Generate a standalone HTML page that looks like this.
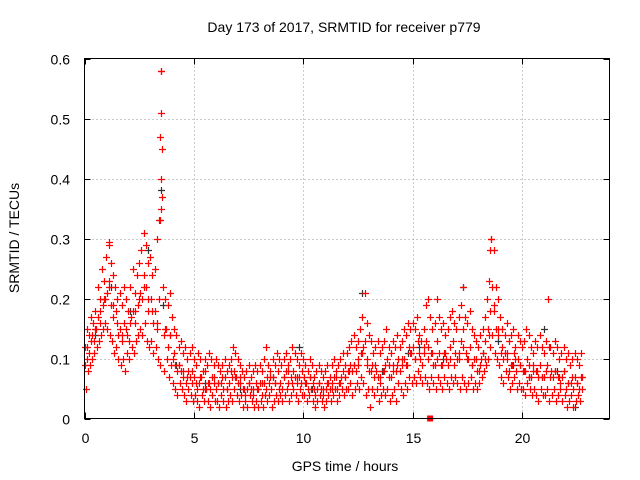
<!DOCTYPE html>
<html><head><meta charset="utf-8"><style>
body{margin:0;background:#fff}
svg{display:block;font-family:"Liberation Sans",sans-serif}
</style></head><body>
<svg id="c" width="640" height="480">
<text x="344" y="32" font-size="14" text-anchor="middle" fill="#000">Day 173 of 2017, SRMTID for receiver p779</text>
<text x="345" y="471" font-size="14" text-anchor="middle">GPS time / hours</text>
<text transform="translate(19,238) rotate(-90)" font-size="14" text-anchor="middle">SRMTID / TECUs</text>
<g id="grid"></g><g id="ticks"></g><g id="pts"></g>
<rect x="84.5" y="58.5" width="525" height="360" fill="none" stroke="#000"/>
</svg>
<script>
const xTicks=[0,5,10,15,20];
const yTicks=[0,0.1,0.2,0.3,0.4,0.5,0.6];
const yTickLabels=["0","0.1","0.2","0.3","0.4","0.5","0.6"];
const hi=[0.12,0.15,0.14,0.17,0.16,0.18,0.22,0.20,0.25,0.23,0.27,0.29,0.26,0.24,0.22,0.20,0.21,0.19,0.22,0.20,0.18,0.22,0.25,0.21,0.24,0.26,0.28,0.31,0.29,0.26,0.27,0.24,0.25,0.30,0.33,0.58,0.22,0.20,0.19,0.21,0.17,0.15,0.14,0.12,0.13,0.11,0.12,0.10,0.11,0.12,0.10,0.09,0.11,0.10,0.08,0.10,0.09,0.11,0.10,0.09,0.10,0.09,0.08,0.09,0.10,0.08,0.09,0.10,0.12,0.11,0.10,0.09,0.08,0.07,0.08,0.09,0.07,0.08,0.09,0.08,0.09,0.08,0.10,0.12,0.09,0.08,0.10,0.09,0.11,0.10,0.09,0.10,0.11,0.09,0.10,0.12,0.11,0.10,0.09,0.11,0.10,0.09,0.08,0.10,0.09,0.07,0.08,0.09,0.08,0.07,0.08,0.09,0.07,0.09,0.10,0.08,0.09,0.10,0.11,0.09,0.11,0.12,0.13,0.14,0.12,0.13,0.15,0.17,0.21,0.16,0.14,0.13,0.11,0.12,0.13,0.11,0.12,0.13,0.15,0.12,0.11,0.13,0.12,0.14,0.12,0.13,0.15,0.14,0.16,0.15,0.16,0.15,0.17,0.14,0.13,0.15,0.19,0.20,0.17,0.15,0.16,0.20,0.17,0.15,0.16,0.14,0.15,0.17,0.18,0.16,0.15,0.17,0.19,0.22,0.17,0.16,0.18,0.15,0.14,0.13,0.12,0.14,0.15,0.17,0.20,0.23,0.30,0.28,0.22,0.20,0.17,0.15,0.14,0.16,0.13,0.14,0.15,0.12,0.14,0.13,0.12,0.13,0.15,0.14,0.12,0.11,0.13,0.12,0.14,0.12,0.11,0.13,0.20,0.12,0.11,0.13,0.12,0.10,0.11,0.12,0.10,0.11,0.09,0.10,0.11,0.10,0.09,0.11];
const lo=[0.05,0.08,0.09,0.10,0.11,0.12,0.13,0.14,0.15,0.16,0.15,0.14,0.13,0.11,0.12,0.10,0.09,0.10,0.08,0.11,0.10,0.12,0.11,0.13,0.14,0.15,0.14,0.16,0.13,0.12,0.13,0.11,0.12,0.10,0.09,0.37,0.08,0.10,0.07,0.09,0.06,0.05,0.04,0.06,0.05,0.04,0.03,0.05,0.04,0.03,0.04,0.03,0.02,0.04,0.03,0.05,0.03,0.02,0.04,0.03,0.03,0.02,0.04,0.03,0.02,0.03,0.04,0.03,0.05,0.04,0.03,0.04,0.02,0.03,0.02,0.04,0.03,0.02,0.03,0.02,0.03,0.02,0.04,0.03,0.04,0.02,0.03,0.04,0.03,0.04,0.03,0.04,0.05,0.03,0.04,0.05,0.04,0.03,0.05,0.04,0.04,0.03,0.04,0.05,0.03,0.02,0.03,0.04,0.03,0.02,0.03,0.04,0.03,0.04,0.05,0.03,0.04,0.05,0.04,0.05,0.05,0.06,0.04,0.05,0.06,0.05,0.07,0.06,0.04,0.05,0.02,0.05,0.04,0.05,0.03,0.04,0.05,0.04,0.05,0.03,0.04,0.05,0.03,0.06,0.05,0.04,0.06,0.05,0.07,0.06,0.07,0.06,0.08,0.07,0.06,0.07,0.06,0.05,0.07,0.06,0.05,0.07,0.06,0.05,0.07,0.06,0.05,0.07,0.06,0.07,0.06,0.05,0.07,0.06,0.05,0.06,0.07,0.05,0.06,0.05,0.06,0.07,0.08,0.09,0.10,0.12,0.14,0.11,0.10,0.09,0.07,0.06,0.08,0.07,0.05,0.06,0.07,0.05,0.06,0.05,0.05,0.04,0.06,0.05,0.04,0.05,0.04,0.03,0.05,0.04,0.04,0.05,0.03,0.04,0.05,0.03,0.04,0.05,0.03,0.04,0.02,0.03,0.04,0.02,0.03,0.04,0.03,0.05];
const m1=[0.09,0.12,0.11,0.14,0.13,0.15,0.17,0.16,0.19,0.20,0.21,0.23,0.19,0.17,0.18,0.14,0.15,0.13,0.16,0.14,0.13,0.17,0.18,0.16,0.19,0.21,0.20,0.24,0.22,0.18,0.20,0.16,0.18,0.15,0.20,0.45,0.14,0.15,0.12,0.14,0.10,0.09,0.08,0.09,0.08,0.07,0.06,0.08,0.07,0.06,0.07,0.05,0.06,0.07,0.05,0.08,0.06,0.05,0.07,0.06,0.05,0.06,0.06,0.05,0.07,0.05,0.06,0.07,0.08,0.07,0.06,0.07,0.05,0.04,0.05,0.06,0.05,0.04,0.06,0.05,0.06,0.04,0.06,0.07,0.06,0.05,0.07,0.06,0.08,0.06,0.05,0.07,0.08,0.06,0.07,0.08,0.07,0.06,0.07,0.08,0.07,0.06,0.05,0.07,0.06,0.04,0.05,0.06,0.05,0.04,0.05,0.06,0.05,0.06,0.07,0.05,0.06,0.07,0.08,0.07,0.08,0.09,0.08,0.09,0.08,0.09,0.11,0.12,0.13,0.10,0.08,0.09,0.07,0.08,0.07,0.06,0.08,0.09,0.10,0.07,0.07,0.09,0.08,0.10,0.08,0.09,0.10,0.09,0.12,0.11,0.12,0.10,0.13,0.10,0.09,0.11,0.13,0.12,0.11,0.09,0.09,0.13,0.11,0.09,0.11,0.10,0.09,0.12,0.13,0.11,0.10,0.11,0.13,0.15,0.11,0.10,0.12,0.09,0.10,0.08,0.08,0.10,0.11,0.13,0.15,0.18,0.22,0.19,0.15,0.14,0.11,0.10,0.11,0.11,0.08,0.09,0.11,0.08,0.10,0.09,0.08,0.08,0.10,0.09,0.07,0.08,0.08,0.07,0.09,0.07,0.07,0.09,0.12,0.08,0.07,0.08,0.07,0.06,0.07,0.08,0.05,0.06,0.06,0.05,0.07,0.06,0.05,0.07];
const mid=[0.10,0.13,0.15,0.18,0.20,0.22,0.19,0.16,0.14,0.15,0.16,0.18,0.20,0.22,0.20,0.18,0.16,0.35,0.15,0.14,0.11,0.09,0.08,0.07,0.08,0.06,0.07,0.05,0.06,0.07,0.06,0.07,0.05,0.08,0.07,0.06,0.05,0.06,0.05,0.05,0.06,0.05,0.07,0.06,0.05,0.07,0.08,0.06,0.07,0.06,0.06,0.07,0.05,0.06,0.05,0.06,0.05,0.07,0.06,0.07,0.08,0.09,0.10,0.11,0.09,0.08,0.09,0.07,0.08,0.09,0.08,0.09,0.10,0.09,0.11,0.10,0.11,0.12,0.10,0.11,0.10,0.09,0.11,0.10,0.09,0.10,0.12,0.10,0.09,0.10,0.09,0.10,0.14,0.18,0.15,0.12,0.10,0.09,0.10,0.09,0.08,0.07,0.09,0.08,0.07,0.08,0.07,0.08,0.07,0.08,0.06,0.07,0.06,0.07];
const extraT=[3.5,3.5,3.45,3.5,3.45,1.1,18.6,18.55];
const extraV=[0.58,0.51,0.47,0.40,0.33,0.295,0.30,0.28];
const blackT=[0.5,1.2,2.1,2.9,3.5,3.6,4.2,5.5,7.1,8.6,9.8,10.4,12.7,13.6,14.8,15.3,16.4,17.3,18.2,18.9,19.6,20.3,21.0,21.6,22.4];
const blackV=[0.14,0.22,0.18,0.28,0.38,0.19,0.09,0.06,0.05,0.07,0.12,0.05,0.21,0.08,0.11,0.12,0.10,0.22,0.11,0.13,0.09,0.07,0.15,0.08,0.02];
const squareT=[15.8],squareV=[0];
const X0=84.5,X1=609.5,Y0=418.5,Y1=58.5;
const sx=t=>X0+(X1-X0)*t/24, sy=v=>Y0-(Y0-Y1)*v/0.6;
const NS="http://www.w3.org/2000/svg";
function mk(tag,attrs,parent){const e=document.createElementNS(NS,tag);for(const k in attrs)e.setAttribute(k,attrs[k]);parent.appendChild(e);return e;}
const grid=document.getElementById('grid'),ticks=document.getElementById('ticks'),pts=document.getElementById('pts');
xTicks.forEach(t=>{const x=Math.round(sx(t))+0.5;
 if(t>0){const l=mk('line',{x1:x,x2:x,y1:Y1,y2:Y0,stroke:'#999','stroke-dasharray':'1,3'},grid);}
 const k=mk('path',{d:`M${x},${Y0}v-6M${x},${Y1}v6`,stroke:'#000'},ticks);
 const tx=mk('text',{x:x,y:443,'font-size':14,'text-anchor':'middle'},ticks);tx.textContent=t;});
yTicks.forEach((v,i)=>{const y=Math.round(sy(v))+0.5;
 if(v>0&&v<0.6){const l=mk('line',{x1:X0,x2:X1,y1:y,y2:y,stroke:'#999','stroke-dasharray':'1,3'},grid);}
 const k=mk('path',{d:`M${X0},${y}h6M${X1},${y}h-6`,stroke:'#000'},ticks);
 const tx=mk('text',{x:70,y:y+5,'font-size':14,'text-anchor':'end'},ticks);tx.textContent=yTickLabels[i];});
function plus(t,v,col){const x=Math.round(sx(t))+0.5,y=Math.round(sy(v))+0.5;
 const p=mk('path',{d:`M${x-3.5},${y}h7M${x},${y-3.5}v7`,stroke:col,'stroke-width':1.2},pts);
 
 }
blackT.forEach((t,i)=>plus(t,blackV[i],'#333'));
hi.forEach((v,i)=>plus(i/10,v,'#f00'));
lo.forEach((v,i)=>plus(i/10+0.05,v,'#f00'));
m1.forEach((v,i)=>plus(i/10+0.025,v,'#f00'));
mid.forEach((v,i)=>plus(i/5+0.1,v,'#f00'));
extraT.forEach((t,i)=>plus(t,extraV[i],'#f00'));
squareT.forEach((t,i)=>{const s=mk('rect',{x:sx(t)-3,y:sy(squareV[i])-3,width:6,height:6,fill:'#f00'},pts);
 
 });
</script>
</body></html>
